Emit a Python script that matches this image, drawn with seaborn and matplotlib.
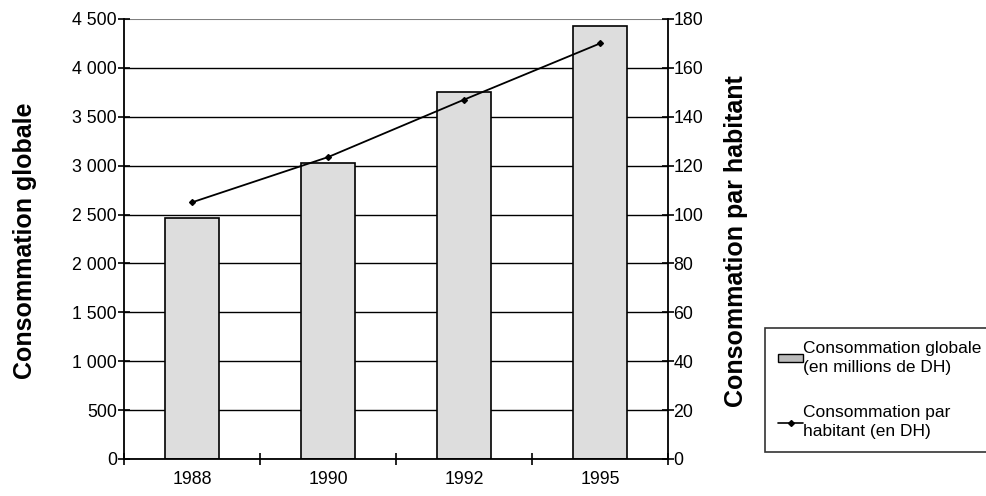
import matplotlib
matplotlib.use("Agg")
import matplotlib.pyplot as plt
from matplotlib.patches import Patch
from matplotlib.lines import Line2D
from matplotlib.ticker import FuncFormatter, FixedLocator
import seaborn as sns
import pandas as pd

years = ["1988", "1990", "1992", "1995"]
conso_globale = [2460, 3025, 3750, 4430]      # millions de DH
conso_habitant = [105, 123.5, 147, 170]       # DH

sns.set_theme(style="white")
plt.rcParams["font.family"] = ["Liberation Sans", "DejaVu Sans"]

df = pd.DataFrame({"annee": years, "globale": conso_globale, "habitant": conso_habitant})

fig = plt.figure(figsize=(9.86, 4.96), dpi=100)
ax = fig.add_axes([0.1258, 0.0746, 0.5517, 0.8871])

sns.barplot(data=df, x="annee", y="globale", ax=ax, color="#dddddd",
            edgecolor="black", linewidth=1.2, width=0.4, saturation=1)
ax.set_ylim(0, 4500)
ax.set_yticks(range(0, 4501, 500))
ax.yaxis.set_major_formatter(FuncFormatter(lambda v, p: f"{int(v):,}".replace(",", " ")))
ax.grid(axis="y", color="black", linewidth=1.0)
ax.set_axisbelow(True)
ax.set_xlim(-0.5, 3.5)
# the top gridline is lighter
ax.yaxis.get_gridlines()[-1].set_color("#808080")
ax.yaxis.get_gridlines()[-1].set_linewidth(1.5)

ax2 = ax.twinx()
sns.pointplot(data=df, x="annee", y="habitant", ax=ax2, color="black",
              markers="D", markersize=3, linewidth=1.3)
ax2.set_ylim(0, 180)
ax2.set_yticks(range(0, 181, 20))
ax2.set_xlim(-0.5, 3.5)

for a in (ax, ax2):
    for s in a.spines.values():
        s.set_visible(False)
ax.spines["left"].set_visible(True)
ax.spines["bottom"].set_visible(True)
ax2.spines["right"].set_visible(True)
for s in (ax.spines["left"], ax.spines["bottom"], ax2.spines["right"]):
    s.set_color("black")
    s.set_linewidth(1.3)

ax.tick_params(axis="y", direction="inout", length=8, width=1.2, color="black",
               left=True, labelsize=12.8, pad=1, labelcolor="black")
ax2.tick_params(axis="y", direction="inout", length=8, width=1.2, color="black",
                right=True, labelsize=12.8, pad=0, labelcolor="black")
ax.tick_params(axis="x", which="major", length=0, labelsize=12.8, pad=9, labelcolor="black")
ax.xaxis.set_minor_locator(FixedLocator([-0.5, 0.5, 1.5, 2.5, 3.5]))
ax.tick_params(axis="x", which="minor", direction="inout", length=8, width=1.2,
               color="black", bottom=True)

ax.set_xlabel("")
ax2.set_xlabel("")
ax.set_ylabel("")
ax2.set_ylabel("")
fig.text(25 / 986, 1 - 241 / 496, "Consommation globale", rotation=90, ha="center",
         va="center", fontsize=18, fontweight="bold", color="black")
fig.text(736 / 986, 1 - 241 / 496, "Consommation par habitant", rotation=90, ha="center",
         va="center", fontsize=18, fontweight="bold", color="black")

handles = [
    Patch(facecolor="#bbbbbb", edgecolor="black", linewidth=1.0),
    Line2D([0], [0], color="black", linewidth=1.2, marker="D", markersize=3),
]
labels = ["Consommation globale\n(en millions de DH)", "Consommation par\nhabitant (en DH)"]
leg = fig.legend(handles, labels, loc="upper left", bbox_to_anchor=(765 / 986, 1 - 328 / 496),
                 frameon=True, fancybox=False, edgecolor="black", fontsize=12.5,
                 handlelength=1.45, handleheight=0.3, handletextpad=0.0,
                 labelspacing=1.7, borderpad=0.75, borderaxespad=0)
leg.get_frame().set_linewidth(1.2)
for t in leg.get_texts():
    t.set_linespacing(1.35)
    t.set_color("black")

fig.savefig("out.png", dpi=100)
